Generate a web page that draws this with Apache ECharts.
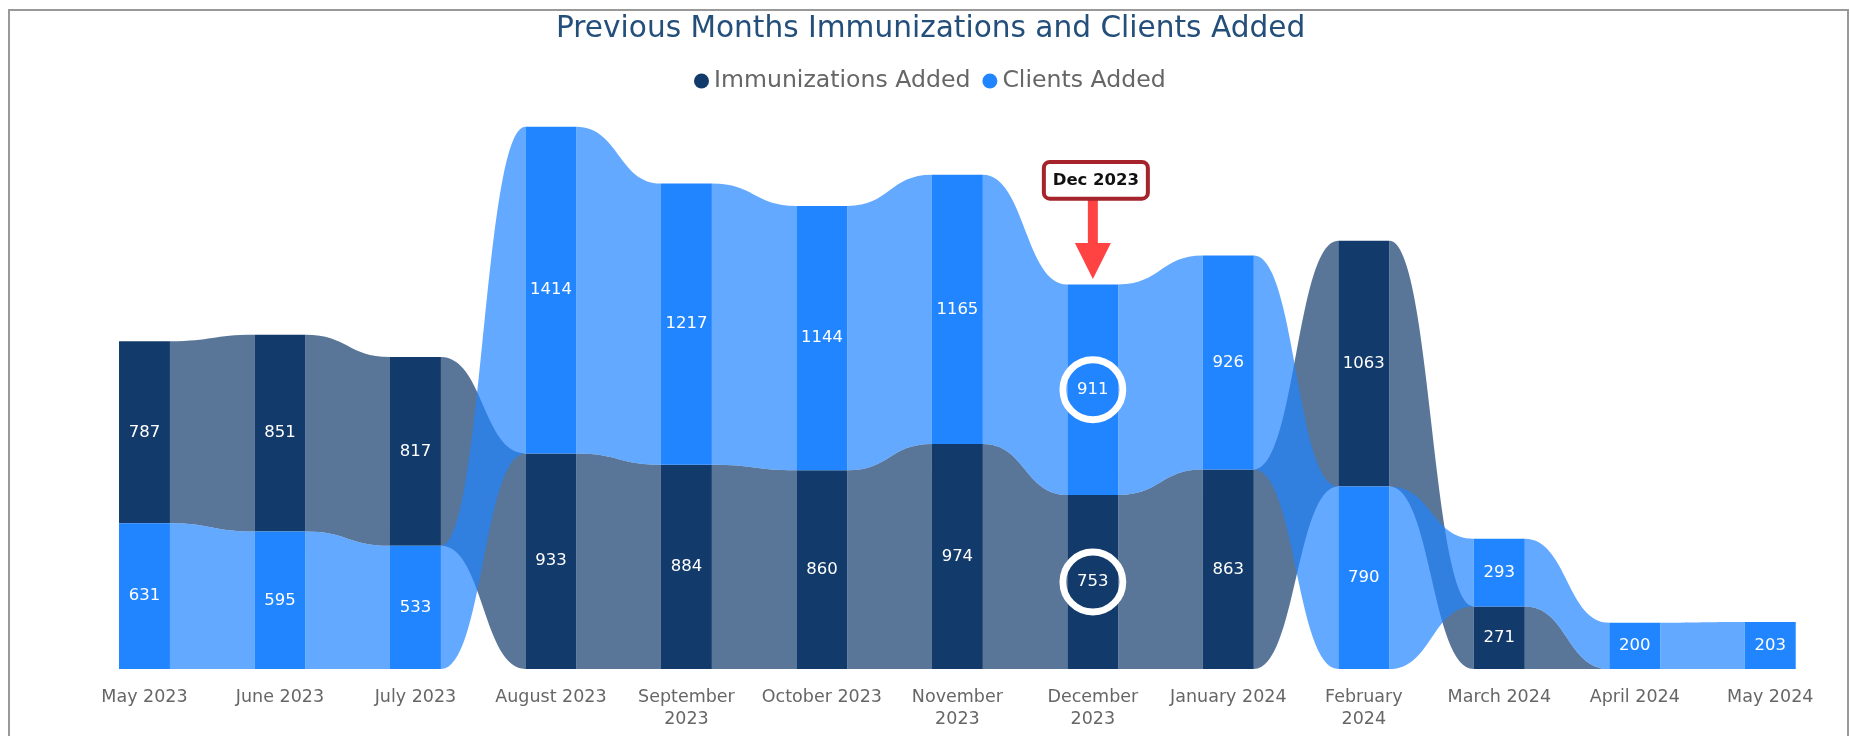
<!DOCTYPE html>
<html>
<head>
<meta charset="utf-8">
<script src="https://cdn.jsdelivr.net/npm/echarts@6/dist/echarts.min.js"></script>
<style>
html, body { margin: 0; padding: 0; background: #fff; }
#main { width: 1850px; height: 736px; }
</style>
</head>
<body>
<div id="main"></div>
<script>
var months = ['May 2023', 'June 2023', 'July 2023', 'August 2023', 'September 2023', 'October 2023',
  'November 2023', 'December 2023', 'January 2024', 'February 2024', 'March 2024', 'April 2024', 'May 2024'];
var immunizations = [787, 851, 817, 933, 884, 860, 974, 753, 863, 1063, 271, 0, 0];
var clients = [631, 595, 533, 1414, 1217, 1144, 1165, 911, 926, 790, 293, 200, 203];
var seriesNames = ['Immunizations Added', 'Clients Added'];
var barColors = ['#123B6B', '#2185FF'];
var ribbonColors = ['rgba(18,59,107,0.7)', 'rgba(33,133,255,0.7)'];
var calloutMonth = 'December 2023';
var calloutText = 'Dec 2023';

var values = [immunizations, clients];
var BAR = 0.376; // bar width as part of the band

// ribbon layout: in each month the smaller value sits at the bottom
var lo = [[], []], hi = [[], []], totals = [];
for (var j = 0; j < months.length; j++) {
  var order = [0, 1].sort(function (a, b) { return values[a][j] - values[b][j]; });
  var base = 0;
  order.forEach(function (s) {
    lo[s][j] = base;
    base += values[s][j];
    hi[s][j] = base;
  });
  totals.push(base);
}

function barData(s) {
  var res = [];
  for (var j = 0; j < months.length; j++) {
    if (values[s][j] > 0) res.push([j, lo[s][j], hi[s][j], values[s][j]]);
  }
  return res;
}

function ribbonData(s) {
  var res = [];
  for (var j = 0; j < months.length - 1; j++) {
    if (values[s][j] > 0 || values[s][j + 1] > 0) {
      res.push([j, lo[s][j], hi[s][j], lo[s][j + 1], hi[s][j + 1]]);
    }
  }
  return res;
}

function renderRibbon(params, api) {
  var j = api.value(0);
  var half = api.size([1, 0])[0] * BAR / 2;
  var a0 = api.coord([j, api.value(1)]), a1 = api.coord([j, api.value(2)]);
  var b0 = api.coord([j + 1, api.value(3)]), b1 = api.coord([j + 1, api.value(4)]);
  var x0 = a0[0] + half, x1 = b0[0] - half, xm = (x0 + x1) / 2;
  var d = 'M' + x0 + ' ' + a1[1] +
    ' C' + xm + ' ' + a1[1] + ' ' + xm + ' ' + b1[1] + ' ' + x1 + ' ' + b1[1] +
    ' L' + x1 + ' ' + b0[1] +
    ' C' + xm + ' ' + b0[1] + ' ' + xm + ' ' + a0[1] + ' ' + x0 + ' ' + a0[1] + ' Z';
  return {
    type: 'path',
    shape: { pathData: d },
    style: { fill: ribbonColors[params.seriesIndex] }
  };
}

function renderBar(params, api) {
  var j = api.value(0);
  var w = api.size([1, 0])[0] * BAR;
  var top = api.coord([j, api.value(2)]), bot = api.coord([j, api.value(1)]);
  var cx = top[0], cy = (top[1] + bot[1]) / 2;
  var kids = [
    { type: 'rect', shape: { x: cx - w / 2, y: top[1], width: w, height: bot[1] - top[1] },
      style: { fill: barColors[params.seriesIndex - 2] } },
    { type: 'text', x: cx, y: cy,
      style: { text: String(api.value(3)), fill: '#fff', font: '16.5px "DejaVu Sans"', align: 'center', verticalAlign: 'middle' } }
  ];
  if (months[j] === calloutMonth) {
    kids.push({ type: 'circle', shape: { cx: cx, cy: cy, r: 30 },
      style: { fill: 'none', stroke: '#fff', lineWidth: 6.8 } });
  }
  return { type: 'group', children: kids };
}

function renderCallout(params, api) {
  var p = api.coord([api.value(0), api.value(1)]);
  var cx = p[0], tip = p[1] - 5.5;
  return {
    type: 'group',
    children: [
      { type: 'rect', shape: { x: cx - 5, y: tip - 79, width: 10, height: 45 }, style: { fill: '#FF4343' } },
      { type: 'polygon', shape: { points: [[cx - 18, tip - 36], [cx + 18, tip - 36], [cx, tip]] }, style: { fill: '#FF4343' } },
      { type: 'rect', shape: { x: cx - 49, y: tip - 117, width: 104, height: 36.7, r: 6 },
        style: { fill: '#fff', stroke: '#A5232B', lineWidth: 4 } },
      { type: 'text', x: cx + 3, y: tip - 98.5,
        style: { text: calloutText, fill: '#111', font: 'bold 16.5px "DejaVu Sans"', align: 'center', verticalAlign: 'middle' } }
    ]
  };
}

var calloutIdx = months.indexOf(calloutMonth);

var chart = echarts.init(document.getElementById('main'));
var option = {
  animation: false,
  title: {
    text: 'Previous Months Immunizations and Clients Added',
    left: 556,
    top: 14.5,
    padding: 0,
    textStyle: { fontFamily: 'DejaVu Sans', fontSize: 29.6, fontWeight: 'normal', color: '#234F7A' }
  },
  legend: {
    data: seriesNames,
    left: 694,
    top: 69,
    padding: 0,
    icon: 'circle',
    itemWidth: 15,
    itemHeight: 15,
    itemGap: 12,
    textStyle: { fontFamily: 'DejaVu Sans', fontSize: 23.6, color: '#666' }
  },
  grid: { left: 76.75, right: 12, top: 114.4, bottom: 67 },
  xAxis: {
    type: 'category',
    data: months,
    boundaryGap: true,
    axisLine: { show: false },
    axisTick: { show: false },
    axisLabel: {
      interval: 0,
      margin: 17,
      color: '#666',
      fontFamily: 'DejaVu Sans',
      fontSize: 17.5,
      lineHeight: 22,
      formatter: function (v) { return v.length > 12 ? v.replace(' ', '\n') : v; }
    }
  },
  yAxis: { type: 'value', min: 0, max: 2400, show: false },
  graphic: [{
    type: 'rect', silent: true,
    shape: { x: 9, y: 10, width: 1839, height: 740 },
    style: { fill: 'none', stroke: '#999', lineWidth: 2 }
  }],
  series: [
    { name: 'Immunizations ribbon', type: 'custom', renderItem: renderRibbon, encode: { x: 0, y: [1, 2, 3, 4] }, data: ribbonData(0), silent: true },
    { name: 'Clients ribbon', type: 'custom', renderItem: renderRibbon, encode: { x: 0, y: [1, 2, 3, 4] }, data: ribbonData(1), silent: true },
    { name: seriesNames[0], type: 'custom', renderItem: renderBar, encode: { x: 0, y: [1, 2] }, itemStyle: { color: barColors[0] }, data: barData(0) },
    { name: seriesNames[1], type: 'custom', renderItem: renderBar, encode: { x: 0, y: [1, 2] }, itemStyle: { color: barColors[1] }, data: barData(1) },
    { name: 'callout', type: 'custom', renderItem: renderCallout, encode: { x: 0, y: 1 }, data: [[calloutIdx, totals[calloutIdx]]], silent: true }
  ]
};
chart.setOption(option);
</script>
</body>
</html>
